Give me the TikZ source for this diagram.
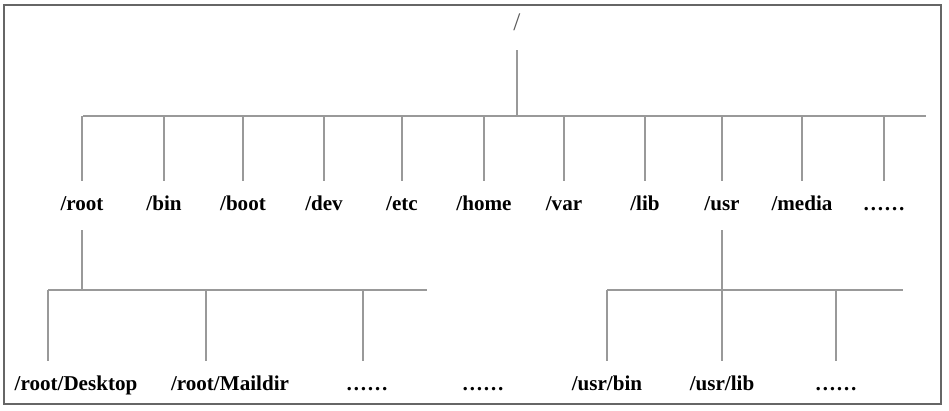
\documentclass[tikz,border=0pt]{standalone}
\usepackage{fontspec}
\setmainfont{Liberation Serif}
\usepackage{tikz}

\begin{document}
\begin{tikzpicture}[
        x=0.025cm, y=-0.025cm,
        dir/.style={anchor=base, inner xsep=0pt, inner ysep=0.4cm, text height=0.33cm, text depth=0.1cm, font=\fontsize{15}{18}\selectfont\bfseries},
        slash/.style={anchor=base, inner xsep=0pt, inner ysep=0.4cm, text height=0.33cm, text depth=0.1cm, font=\fontsize{18}{20}\selectfont, text=black!65},
        branch/.style={line width=0.8pt, black!40},
        frame/.style={line width=1pt, black!60}
    ]
        \useasboundingbox (0,0) rectangle (949,410);
        \draw[frame] (4,5) rectangle (941,404);

        \node[slash] (top) at (517,30) {/};

        \node[dir] (root) at (82,210) {/root};
        \node[dir] (bin) at (164,210) {/bin};
        \node[dir] (boot) at (243,210) {/boot};
        \node[dir] (dev) at (324,210) {/dev};
        \node[dir] (etc) at (402,210) {/etc};
        \node[dir] (home) at (484,210) {/home};
        \node[dir] (var) at (564,210) {/var};
        \node[dir] (lib) at (645,210) {/lib};
        \node[dir] (usr) at (722,210) {/usr};
        \node[dir] (media) at (802,210) {/media};
        \node[dir] (more) at (884,210) {……};

        \node[dir] (desktop) at (76,390) {/root/Desktop};
        \node[dir] (maildir) at (230,390) {/root/Maildir};
        \node[dir] (rootmore) at (367,390) {……};
        \node[dir] (gapmore) at (483,390) {……};
        \node[dir] (usrbin) at (607,390) {/usr/bin};
        \node[dir] (usrlib) at (722,390) {/usr/lib};
        \node[dir] (usrmore) at (836,390) {……};

        \coordinate (topbarL) at (83,116);
        \coordinate (topbarR) at (926,116);
        \coordinate (rootbarL) at (48,290);
        \coordinate (rootbarM) at (206,290);
        \coordinate (rootbarN) at (363,290);
        \coordinate (rootbarR) at (427,290);
        \coordinate (usrbarL) at (607,290);
        \coordinate (usrbarR) at (903,290);

        % first level
        \draw[branch] (top.south) -- (top |- topbarL);
        \draw[branch] (topbarL) -- (topbarR);
        \draw[branch] (root |- topbarL) -- (root.north);
        \draw[branch] (bin |- topbarL) -- (bin.north);
        \draw[branch] (boot |- topbarL) -- (boot.north);
        \draw[branch] (dev |- topbarL) -- (dev.north);
        \draw[branch] (etc |- topbarL) -- (etc.north);
        \draw[branch] (home |- topbarL) -- (home.north);
        \draw[branch] (var |- topbarL) -- (var.north);
        \draw[branch] (lib |- topbarL) -- (lib.north);
        \draw[branch] (usr |- topbarL) -- (usr.north);
        \draw[branch] (media |- topbarL) -- (media.north);
        \draw[branch] (more |- topbarL) -- (more.north);

        % under /root
        \draw[branch] (root.south) -- (root |- rootbarL);
        \draw[branch] (rootbarL) -- (rootbarR);
        \draw[branch] (rootbarL) -- (rootbarL |- desktop.north);
        \draw[branch] (rootbarM) -- (rootbarM |- maildir.north);
        \draw[branch] (rootbarN) -- (rootbarN |- rootmore.north);

        % under /usr
        \draw[branch] (usr.south) -- (usr |- usrbarL);
        \draw[branch] (usrbarL) -- (usrbarR);
        \draw[branch] (usrbin |- usrbarL) -- (usrbin.north);
        \draw[branch] (usrlib |- usrbarL) -- (usrlib.north);
        \draw[branch] (usrmore |- usrbarL) -- (usrmore.north);
    \end{tikzpicture}
\end{document}
